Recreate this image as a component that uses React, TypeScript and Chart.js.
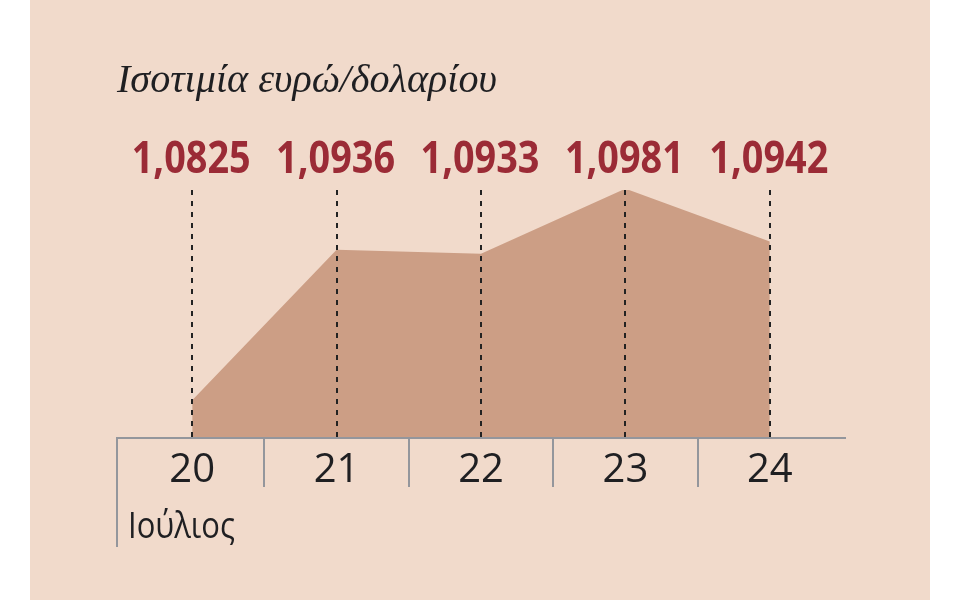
import React, { useEffect, useRef } from "react";
import { Chart, registerables } from "chart.js";

Chart.register(...registerables);

const categories = ["20", "21", "22", "23", "24"];
const rates = [1.0825, 1.0936, 1.0933, 1.0981, 1.0942];
const valueLabels = ["1,0825", "1,0936", "1,0933", "1,0981", "1,0942"];
const titleText = "Ισοτιμία ευρώ/δολαρίου";
const monthText = "Ιούλιος";

const BG = "#f1dacb";
const FILL = "#cc9e85";
const RED = "#9b2b36";
const AXIS = "#94969c";
const INK = "#1f1f22";

function fitText(ctx: CanvasRenderingContext2D, text: string, x: number, y: number, width: number, align: "left" | "center") {
  const w = ctx.measureText(text).width;
  const s = width / w;
  ctx.save();
  ctx.translate(x, y);
  ctx.scale(s, 1);
  ctx.textAlign = align;
  ctx.fillText(text, 0, 0);
  ctx.restore();
}

const overlay = {
  id: "overlay",
  afterDatasetsDraw(chart: any) {
    const { ctx, chartArea } = chart;
    const x = chart.scales.x;
    const bottom = chartArea.bottom;
    ctx.save();
    // dashed verticals
    ctx.strokeStyle = "#222";
    ctx.lineWidth = 2;
    ctx.setLineDash([5, 6]);
    categories.forEach((_, i) => {
      const px = Math.round(x.getPixelForValue(i));
      ctx.beginPath();
      ctx.moveTo(px, chartArea.top);
      ctx.lineTo(px, bottom);
      ctx.stroke();
    });
    ctx.setLineDash([]);
    // axis line
    ctx.strokeStyle = AXIS;
    ctx.lineWidth = 2;
    ctx.beginPath();
    ctx.moveTo(chartArea.left - 4, bottom + 1);
    ctx.lineTo(chartArea.right + 4, bottom + 1);
    ctx.stroke();
    // left long tick
    ctx.beginPath();
    ctx.moveTo(chartArea.left - 3, bottom);
    ctx.lineTo(chartArea.left - 3, bottom + 110);
    ctx.stroke();
    // separators
    for (let i = 0; i < categories.length - 1; i++) {
      const px = Math.round((x.getPixelForValue(i) + x.getPixelForValue(i + 1)) / 2);
      ctx.beginPath();
      ctx.moveTo(px, bottom);
      ctx.lineTo(px, bottom + 50);
      ctx.stroke();
    }
    // value labels
    ctx.fillStyle = RED;
    ctx.textBaseline = "alphabetic";
    ctx.font = "bold 45px 'Open Sans', 'Noto Sans', sans-serif";
    valueLabels.forEach((t, i) => {
      fitText(ctx, t, x.getPixelForValue(i) - 1, 173, 119, "center");
    });
    // title
    ctx.fillStyle = INK;
    ctx.textAlign = "left";
    ctx.font = "italic 40px 'Liberation Serif', 'DejaVu Serif', serif";
    fitText(ctx, titleText, 117, 92, 380, "left");
    // month
    ctx.font = "36px 'Open Sans', 'Noto Sans', sans-serif";
    fitText(ctx, monthText, 128, 538, 107, "left");
    ctx.restore();
  },
};

export default function App() {
  const ref = useRef<HTMLCanvasElement>(null);
  useEffect(() => {
    document.body.style.margin = "0";
    const chart = new Chart(ref.current!, {
      type: "line",
      data: {
        labels: categories,
        datasets: [
          {
            data: rates,
            fill: "start",
            backgroundColor: FILL,
            borderWidth: 0,
            borderColor: "transparent",
            pointRadius: 0,
            tension: 0,
            clip: false as any,
          },
        ],
      },
      options: {
        responsive: false,
        animation: false,
        layout: { padding: { left: 120, right: 118, top: 190, bottom: 95 } },
        plugins: { legend: { display: false }, tooltip: { enabled: false }, title: { display: false } },
        scales: {
          x: {
            type: "category",
            offset: true,
            grid: { display: false, drawTicks: false },
            border: { display: false },
            ticks: {
              padding: 10,
              color: INK,
              font: { family: "'Open Sans', 'Noto Sans', sans-serif", size: 40, lineHeight: 1.2 },
            },
          },
          y: { display: false, min: 1.0798, max: 1.098 },
        },
      },
      plugins: [overlay],
    });
    return () => chart.destroy();
  }, []);
  return (
    <div style={{ position: "relative", width: 960, height: 600, background: "#fff" }}>
      <div style={{ position: "absolute", left: 30, top: 0, width: 900, height: 600, background: BG }} />
      <canvas ref={ref} width={960} height={600} style={{ position: "absolute", left: 0, top: 0 }} />
    </div>
  );
}
